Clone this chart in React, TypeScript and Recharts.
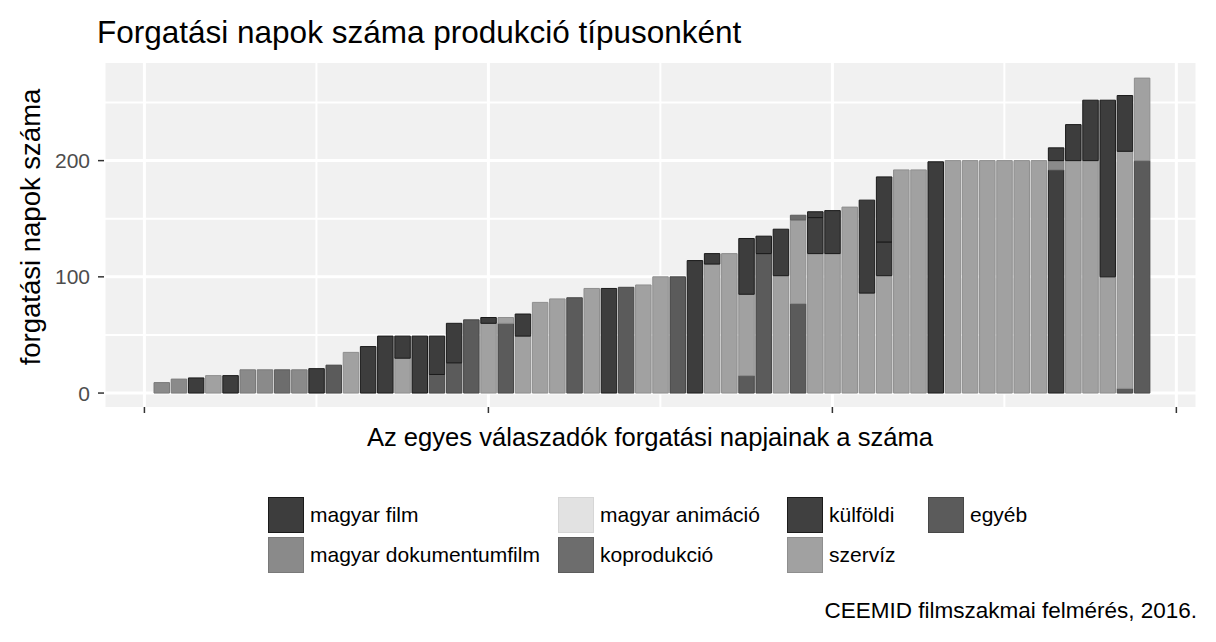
import { Bar, BarChart, CartesianGrid, XAxis, YAxis } from "recharts";

// forgatási napok válaszadónként, típus szerint (1..58, növekvő összeg szerint)
const egyeb = [
  0, 0, 0, 0, 0, 0, 0, 0, 0, 0,
  24, 0, 0, 0, 0, 0, 16, 26, 63, 0,
  60, 0, 0, 0, 82, 0, 0, 91, 0, 0,
  100, 0, 0, 0, 15, 120, 0, 77, 0, 0,
  0, 0, 0, 0, 0, 0, 0, 0, 0, 0,
  0, 0, 0, 0, 0, 0, 4, 200,
];
const szerviz = [
  0, 0, 0, 15, 0, 0, 0, 0, 0, 0,
  0, 35, 0, 0, 30, 0, 0, 0, 0, 60,
  5, 49, 78, 81, 0, 90, 0, 0, 93, 100,
  0, 0, 111, 120, 70, 0, 101, 72, 120, 120,
  160, 86, 101, 192, 192, 0, 200, 200, 200, 200,
  200, 200, 0, 200, 200, 100, 204, 71,
];
const kulfoldi = [
  0, 0, 0, 0, 0, 0, 0, 0, 0, 0,
  0, 0, 0, 0, 0, 0, 0, 0, 0, 0,
  0, 0, 0, 0, 0, 0, 0, 0, 0, 0,
  0, 0, 0, 0, 0, 0, 0, 0, 31, 0,
  0, 0, 29, 0, 0, 0, 0, 0, 0, 0,
  0, 0, 192, 0, 0, 0, 0, 0,
];
const koprodukcio = [
  0, 0, 0, 0, 0, 0, 0, 20, 0, 0,
  0, 0, 0, 0, 0, 0, 0, 0, 0, 0,
  0, 0, 0, 0, 0, 0, 0, 0, 0, 0,
  0, 0, 0, 0, 0, 0, 0, 4, 0, 0,
  0, 0, 0, 0, 0, 0, 0, 0, 0, 0,
  0, 0, 0, 0, 0, 0, 0, 0,
];
const animacio = [
  0, 0, 0, 0, 0, 0, 0, 0, 0, 0,
  0, 0, 0, 0, 0, 0, 0, 0, 0, 0,
  0, 0, 0, 0, 0, 0, 0, 0, 0, 0,
  0, 0, 0, 0, 0, 0, 0, 0, 0, 0,
  0, 0, 0, 0, 0, 0, 0, 0, 0, 0,
  0, 0, 0, 0, 0, 0, 0, 0,
];
const dokumentum = [
  9, 12, 0, 0, 0, 20, 20, 0, 20, 0,
  0, 0, 0, 0, 0, 0, 0, 0, 0, 0,
  0, 0, 0, 0, 0, 0, 0, 0, 0, 0,
  0, 0, 0, 0, 0, 0, 0, 0, 0, 0,
  0, 0, 0, 0, 0, 0, 0, 0, 0, 0,
  0, 0, 8, 0, 0, 0, 0, 0,
];
const magyarFilm = [
  0, 0, 13, 0, 15, 0, 0, 0, 0, 21,
  0, 0, 40, 49, 19, 49, 33, 34, 0, 5,
  0, 19, 0, 0, 0, 0, 90, 0, 0, 0,
  0, 114, 9, 0, 48, 15, 40, 0, 5, 37,
  0, 80, 56, 0, 0, 199, 0, 0, 0, 0,
  0, 0, 11, 31, 52, 152, 48, 0,
];

const yTicks = [0, 100, 200];
const yMinor = [50, 150, 250];
const xTicks = [0, 20, 40, 60];
const xMinor = [10, 30, 50];
const xDomain = [-2.35, 61.2];

// rétegek alulról felfelé (ggplot stack sorrend)
const SERIES = [
  { key: "egyeb", name: "egyéb", fill: "#5b5b5b", stroke: "#474747", values: egyeb },
  { key: "szerviz", name: "szervíz", fill: "#a1a1a1", stroke: "#8e8e8e", values: szerviz },
  { key: "kulfoldi", name: "külföldi", fill: "#404040", stroke: "#1c1c1c", values: kulfoldi },
  { key: "koprodukcio", name: "koprodukció", fill: "#6d6d6d", stroke: "#5c5c5c", values: koprodukcio },
  { key: "animacio", name: "magyar animáció", fill: "#e2e2e2", stroke: "#d6d6d6", values: animacio },
  { key: "dokumentum", name: "magyar dokumentumfilm", fill: "#8a8a8a", stroke: "#797979", values: dokumentum },
  { key: "magyarFilm", name: "magyar film", fill: "#3d3d3d", stroke: "#1a1a1a", values: magyarFilm },
];

const LEGEND_COLUMNS = [
  ["magyarFilm", "dokumentum"],
  ["animacio", "koprodukcio"],
  ["kulfoldi", "szerviz"],
  ["egyeb"],
];
const LEGEND_X = [268, 558, 787, 928];

const data = magyarFilm.map((_, i) => {
  const row: Record<string, number> = { idx: i + 1 };
  SERIES.forEach((s) => (row[s.key] = s.values[i]));
  return row;
});

const FONT = '"Liberation Sans", Arial, Helvetica, sans-serif';

export default function App() {
  return (
    <div style={{ position: "absolute", left: 0, top: 0, width: 1216, height: 642, background: "#fff", fontFamily: FONT }}>
      <BarChart width={1216} height={642} data={data} margin={{ top: 63, right: 19, bottom: 205, left: 0 }}>
        <CartesianGrid fill="#f1f1f1" stroke="#ffffff" strokeWidth={2} xAxisId="minor" horizontalValues={yMinor} />
        <CartesianGrid stroke="#ffffff" strokeWidth={3} horizontalValues={yTicks} />
        <XAxis
          dataKey="idx"
          type="number"
          domain={xDomain}
          ticks={xTicks}
          tick={{ fill: "transparent", fontSize: 1 }}
          axisLine={false}
          tickLine={{ stroke: "#333", strokeWidth: 1.5 }}
          tickSize={6}
          height={30}
          allowDataOverflow
        />
        <XAxis xAxisId="minor" dataKey="idx" type="number" domain={xDomain} ticks={xMinor} hide allowDataOverflow />
        <YAxis
          type="number"
          domain={[-12, 284]}
          ticks={yTicks}
          allowDataOverflow
          width={104}
          axisLine={false}
          tickLine={{ stroke: "#333", strokeWidth: 1.5 }}
          tickSize={6}
          tickMargin={8}
          tick={{ fill: "#4d4d4d", fontSize: 21, fontFamily: FONT }}
        />
        {SERIES.map((s) => (
          <Bar
            key={s.key}
            dataKey={s.key}
            name={s.name}
            stackId="napok"
            fill={s.fill}
            stroke={s.stroke}
            strokeWidth={1}
            barSize={15.5}
            isAnimationActive={false}
          />
        ))}
      </BarChart>

      <div style={{ position: "absolute", left: 97, top: 17, fontSize: 31.5, lineHeight: "31px", color: "#000", whiteSpace: "nowrap" }}>
        Forgatási napok száma produkció típusonként
      </div>

      <div
        style={{
          position: "absolute",
          left: 31 - 200,
          top: 227 - 15,
          width: 400,
          height: 30,
          lineHeight: "30px",
          fontSize: 27.5,
          textAlign: "center",
          transform: "rotate(-90deg)",
          whiteSpace: "nowrap",
          color: "#000",
        }}
      >
        forgatási napok száma
      </div>

      <div style={{ position: "absolute", left: 150, top: 424, width: 1000, textAlign: "center", fontSize: 25.6, lineHeight: "26px", color: "#000", whiteSpace: "nowrap" }}>
        Az egyes válaszadók forgatási napjainak a száma
      </div>

      {LEGEND_COLUMNS.map((col, ci) =>
        col.map((key, ri) => {
          const s = SERIES.find((d) => d.key === key)!;
          const top = 497 + ri * 40;
          return (
            <div key={key} style={{ position: "absolute", left: LEGEND_X[ci], top, height: 36, display: "flex", alignItems: "center", whiteSpace: "nowrap" }}>
              <div style={{ width: 34, height: 34, background: s.fill, border: `1px solid ${s.stroke}` }} />
              <span style={{ marginLeft: 6, fontSize: 21, color: "#000" }}>{s.name}</span>
            </div>
          );
        })
      )}

      <div style={{ position: "absolute", right: 19, top: 600, fontSize: 22.5, lineHeight: "22px", color: "#000", whiteSpace: "nowrap" }}>
        CEEMID filmszakmai felmérés, 2016.
      </div>
    </div>
  );
}
